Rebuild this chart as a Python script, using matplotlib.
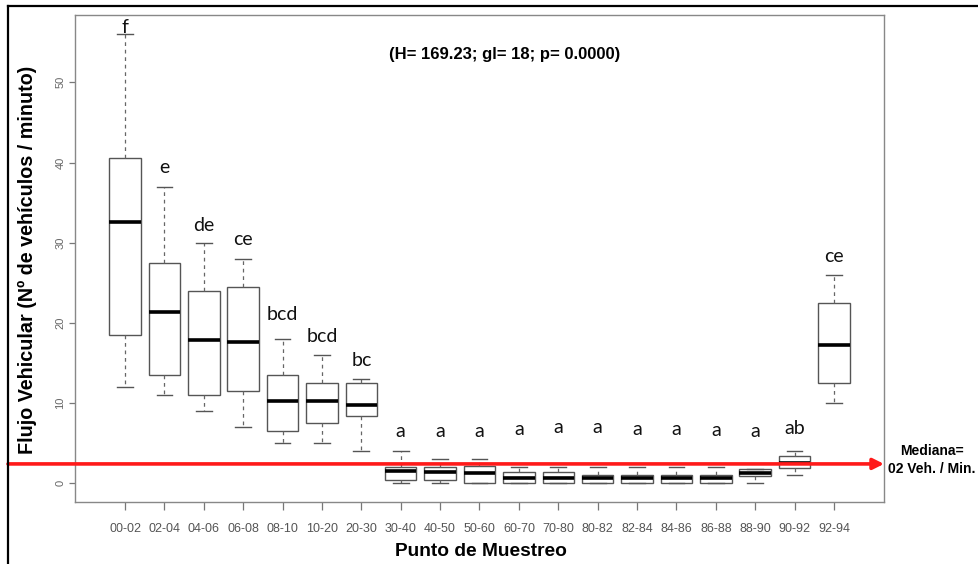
import matplotlib
matplotlib.use("Agg")
import matplotlib.pyplot as plt
from matplotlib.lines import Line2D
from matplotlib.transforms import blended_transform_factory

# sampling points along the route
puntos = ['00-02', '02-04', '04-06', '06-08', '08-10', '10-20', '20-30', '30-40',
          '40-50', '50-60', '60-70', '70-80', '80-82', '82-84', '84-86', '86-88',
          '88-90', '90-92', '92-94']

# box summaries (vehiculos / minuto)
whis_lo = [12, 11, 9, 7, 5, 5, 4, 0, 0, 0, 0, 0, 0, 0, 0, 0, 0, 1, 10]
q1 = [18.5, 13.5, 11, 11.5, 6.5, 7.5, 8.4, 0.4, 0.4, 0, 0, 0, 0, 0, 0, 0, 0.9, 1.9, 12.5]
mediana = [32.6, 21.3, 17.8, 17.6, 10.2, 10.2, 9.8, 1.5, 1.4, 1.3, 0.7, 0.7, 0.6, 0.6, 0.6, 0.6, 1.3, 2.5, 17.2]
q3 = [40.5, 27.5, 24, 24.5, 13.5, 12.5, 12.5, 2, 2, 2.1, 1.4, 1.4, 1, 1, 1, 1, 1.8, 3.4, 22.5]
whis_hi = [56, 37, 30, 28, 18, 16, 13, 4, 3, 3, 2, 2, 2, 2, 2, 2, 1.8, 4, 26]

# Kruskal-Wallis groups (letters) and the baseline height where each is written
letras = ['f', 'e', 'de', 'ce', 'bcd', 'bcd', 'bc', 'a', 'a', 'a', 'a', 'a', 'a', 'a',
          'a', 'a', 'a', 'ab', 'ce']
letras_y = [56.2, 38.7, 31.5, 29.7, 20.4, 17.6, 14.6, 5.8, 5.8, 5.8, 6.0, 6.3, 6.3, 6.0,
            6.0, 5.9, 5.7, 6.1, 27.6]

mediana_global = 2.4
y_ticks = [0, 10, 20, 30, 40, 50]

W, H = 979, 564
fig = plt.figure(figsize=(W / 100, H / 100), dpi=100)
ax = fig.add_axes([75 / W, (H - 502) / H, (884 - 75) / W, (502 - 15) / H])

stats = []
for i in range(len(puntos)):
    stats.append(dict(whislo=whis_lo[i], q1=q1[i], med=mediana[i], q3=q3[i],
                      whishi=whis_hi[i], label=puntos[i]))

pos = list(range(1, len(puntos) + 1))
ax.bxp(stats, positions=pos, widths=0.8, showfliers=False, patch_artist=True,
       boxprops=dict(facecolor='white', edgecolor='#555555', linewidth=1.0),
       whiskerprops=dict(color='#666666', linewidth=0.9, linestyle=(0, (3, 3))),
       capprops=dict(color='#555555', linewidth=1.0),
       medianprops=dict(color='black', linewidth=2.6, solid_capstyle='butt'))

ax.set_xlim(-0.27, 20.27)
ax.set_ylim(-2.35, 58.4)
ax.set_yticks(y_ticks)
ax.set_yticklabels([str(v) for v in y_ticks], rotation=90, va='center')

for sp in ax.spines.values():
    sp.set_color('#888888')
    sp.set_linewidth(1.0)

ax.tick_params(axis='x', length=6, width=0.9, color='#777777', pad=9,
               labelsize=9, labelcolor='#555555')
ax.tick_params(axis='y', length=4, width=0.9, color='#777777', pad=3,
               labelsize=8, labelcolor='#666666')
for lab in ax.get_xticklabels() + ax.get_yticklabels():
    lab.set_family(['Liberation Sans Narrow', 'Liberation Sans'])

# group letters
for x, t, y in zip(pos, letras, letras_y):
    ax.text(x, y, t, ha='center', va='baseline', fontsize=14, family='Lato',
            color='#111111')

ax.text(0.5315, 0.918, '(H= 169.23; gl= 18; p= 0.0000)', transform=ax.transAxes,
        ha='center', va='center', fontsize=12, fontweight='bold',
        family='Liberation Sans')

# red median line with arrow
trans = blended_transform_factory(fig.transFigure, ax.transData)
ax.annotate('', xy=(1.0, mediana_global), xycoords=ax.get_yaxis_transform(),
            xytext=(8 / W, mediana_global), textcoords=trans,
            arrowprops=dict(arrowstyle='-|>', color='#ff1a1a', lw=2.6,
                            mutation_scale=16, shrinkA=0, shrinkB=0),
            annotation_clip=False, zorder=5)

ax.text((932 - 75) / (884 - 75), 2.9, 'Mediana=\n02 Veh. / Min.',
        transform=ax.get_yaxis_transform(), ha='center', va='center',
        fontsize=10, fontweight='bold', family='Liberation Sans',
        linespacing=1.4, clip_on=False)

ax.set_ylabel('Flujo Vehicular (Nº de vehículos / minuto)', fontsize=14.2,
              fontweight='bold', family='Liberation Sans')
ax.yaxis.set_label_coords((27 - 75) / (884 - 75), 0.497)
ax.yaxis.label.set_va('center')
ax.set_xlabel('Punto de Muestreo', fontsize=13.8, fontweight='bold',
              family='Liberation Sans')
ax.xaxis.set_label_coords(0.502, (502 - 552) / (502 - 15))
ax.xaxis.label.set_va('center')

# black frame around the picture
fig.add_artist(Line2D([8 / W, 1.0], [1 - 6 / H, 1 - 6 / H], transform=fig.transFigure,
                      color='black', lw=1.6))
fig.add_artist(Line2D([8 / W, 8 / W], [0.0, 1 - 6 / H], transform=fig.transFigure,
                      color='black', lw=1.6))

fig.savefig('out.png', dpi=100)
